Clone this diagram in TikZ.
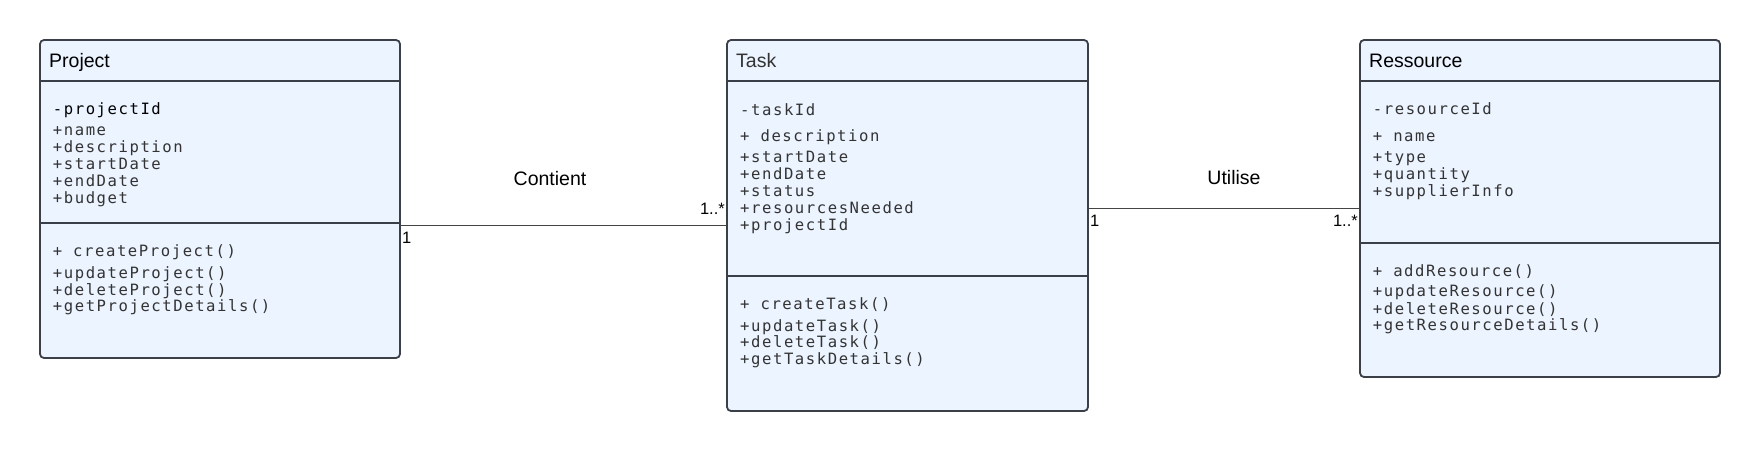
\documentclass[tikz,border=0pt]{standalone}
\usepackage{fontspec}
\setmainfont{Liberation Sans}
\newfontfamily\umlmono[LetterSpace=10]{DejaVu Sans Mono}
\definecolor{boxfill}{HTML}{ECF4FF}
\definecolor{boxborder}{HTML}{3B3F48}
\definecolor{txtgray}{HTML}{333333}
\definecolor{linegray}{HTML}{444444}
\tikzset{
  umlbox/.style={rectangle, draw=boxborder, line width=1.8pt, fill=boxfill, rounded corners=4pt, inner sep=0pt},
  divider/.style={draw=boxborder, line width=1.8pt},
  ttl/.style={anchor=base west, inner sep=0pt, font=\fontsize{19.5}{22}\selectfont, text=black},
  attr/.style={anchor=base west, inner sep=0pt, font=\umlmono\fontsize{15.6}{17}\selectfont, text=txtgray},
  rel/.style={draw=linegray, line width=1pt},
  lbl/.style={anchor=base, inner sep=0pt, font=\fontsize{19.5}{22}\selectfont, text=black},
  mult/.style={inner sep=0pt, font=\fontsize{16.5}{18}\selectfont, text=black}
}
\begin{document}
\begin{tikzpicture}[x=1pt,y=-1pt]
\useasboundingbox (0,0) rectangle (1760,451);
% boxes
\node[umlbox, minimum width=360pt, minimum height=318pt] (project) at (220,199) {};
\node[umlbox, minimum width=361pt, minimum height=371pt] (task) at (907.5,225.5) {};
\node[umlbox, minimum width=360pt, minimum height=337pt] (res) at (1540,208.5) {};
% dividers
\draw[divider] (project.west |- 0,81) -- (project.east |- 0,81);
\draw[divider] (project.west |- 0,223) -- (project.east |- 0,223);
\draw[divider] (task.west |- 0,81) -- (task.east |- 0,81);
\draw[divider] (task.west |- 0,276) -- (task.east |- 0,276);
\draw[divider] (res.west |- 0,81) -- (res.east |- 0,81);
\draw[divider] (res.west |- 0,242.7) -- (res.east |- 0,242.7);
% Project
\node[ttl] (pt) at (49,67) {Project};
\node[attr, text=black] (pa1) at (52.7,114) {-projectId};
\node[attr] (pa2) at (52.7,135) {+name};
\node[attr] (pa3) at (52.7,152) {+description};
\node[attr] (pa4) at (52.7,169) {+startDate};
\node[attr] (pa5) at (52.7,186) {+endDate};
\node[attr] (pa6) at (52.7,203) {+budget};
\node[attr] (pm1) at (52.7,256) {+ createProject()};
\node[attr] (pm2) at (52.7,278.3) {+updateProject()};
\node[attr] (pm3) at (52.7,295) {+deleteProject()};
\node[attr] (pm4) at (52.7,311.7) {+getProjectDetails()};
% Task
\node[ttl, text=txtgray] (tt) at (736,67.5) {Task};
\node[attr] (ta1) at (740,115) {-taskId};
\node[attr] (ta2) at (740,141) {+ description};
\node[attr] (ta3) at (740,162.7) {+startDate};
\node[attr] (ta4) at (740,179.3) {+endDate};
\node[attr] (ta5) at (740,196.7) {+status};
\node[attr] (ta6) at (740,213.3) {+resourcesNeeded};
\node[attr] (ta7) at (740,230) {+projectId};
\node[attr] (tm1) at (740,309.3) {+ createTask()};
\node[attr] (tm2) at (740,331) {+updateTask()};
\node[attr] (tm3) at (740,347.7) {+deleteTask()};
\node[attr] (tm4) at (740,364.3) {+getTaskDetails()};
% Ressource
\node[ttl] (rt) at (1369,67) {Ressource};
\node[attr] (ra1) at (1372.7,114) {-resourceId};
\node[attr] (ra2) at (1372.7,141) {+ name};
\node[attr] (ra3) at (1372.7,162.7) {+type};
\node[attr] (ra4) at (1372.7,179.3) {+quantity};
\node[attr] (ra5) at (1372.7,196) {+supplierInfo};
\node[attr] (rm1) at (1372.7,276) {+ addResource()};
\node[attr] (rm2) at (1372.7,296.7) {+updateResource()};
\node[attr] (rm3) at (1372.7,314) {+deleteResource()};
\node[attr] (rm4) at (1372.7,330) {+getResourceDetails()};
% relations
\draw[rel] (project.east |- 0,225) -- (task.west |- 0,225);
\draw[rel] (task.east |- 0,208.3) -- (res.west |- 0,208.3);
\node[lbl] (l1) at (550,185) {Contient};
\node[lbl] (l2) at (1234,184.3) {Utilise};
\node[mult, anchor=base west] (m1) at (402,243.3) {1};
\node[mult, anchor=base east] (m2) at (725,214.3) {1..*};
\node[mult, anchor=base west] (m3) at (1090,226) {1};
\node[mult, anchor=base east] (m4) at (1358,226) {1..*};
\end{tikzpicture}
\end{document}
